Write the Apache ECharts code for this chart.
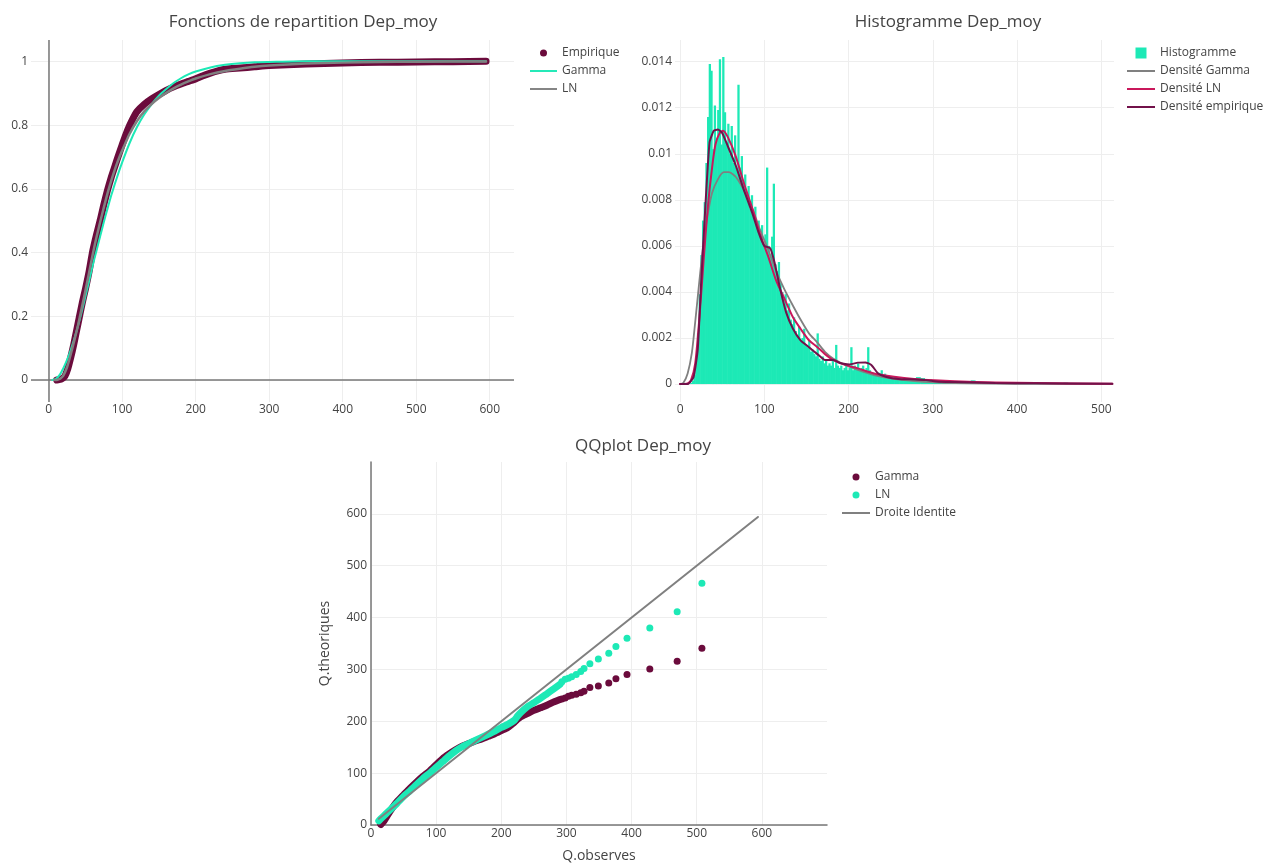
<!DOCTYPE html>
<html>
<head>
<meta charset="utf-8">
<title>Dep_moy</title>
<script src="https://cdn.jsdelivr.net/npm/echarts@6/dist/echarts.min.js"></script>
<style>
  html, body { margin: 0; padding: 0; background: #fff; }
  #chart { width: 1263px; height: 864px; }
</style>
</head>
<body>
<div id="chart"></div>
<script>
// ---------- data ----------
var ecdfXTicks = [0, 100, 200, 300, 400, 500, 600];
var ecdfYTicks = [0, 0.2, 0.4, 0.6, 0.8, 1];
var histXTicks = [0, 100, 200, 300, 400, 500];
var histYTicks = [0, 0.002, 0.004, 0.006, 0.008, 0.01, 0.012, 0.014];
var qqTicks = [0, 100, 200, 300, 400, 500, 600];

// fonctions de repartition
var ecdfEmpirique = [[11,0],[14,0.001],[18,0.004],[22,0.012],[26,0.035],[30,0.07],[34,0.11],[38,0.155],
  [42,0.2],[46,0.245],[50,0.285],[55,0.34],[60,0.405],[65,0.455],[70,0.5],[75,0.55],[80,0.595],[85,0.635],
  [90,0.67],[95,0.705],[100,0.738],[105,0.77],[110,0.798],[115,0.822],[120,0.842],[130,0.865],[140,0.882],
  [150,0.896],[160,0.909],[170,0.92],[180,0.929],[190,0.937],[200,0.945],[210,0.955],[220,0.963],[230,0.97],
  [240,0.975],[260,0.979],[280,0.983],[300,0.987],[350,0.992],[400,0.995],[450,0.997],[500,0.998],[550,0.999],[595,1]];
var ecdfGamma = [[5,0],[10,0.004],[15,0.016],[20,0.037],[25,0.063],[30,0.094],[35,0.13],[40,0.17],[45,0.215],
  [50,0.262],[55,0.31],[60,0.36],[65,0.405],[70,0.45],[75,0.495],[80,0.537],[85,0.578],[90,0.615],[95,0.65],
  [100,0.683],[110,0.743],[120,0.793],[130,0.833],[140,0.865],[150,0.892],[160,0.913],[170,0.932],[180,0.947],
  [190,0.959],[200,0.968],[220,0.981],[240,0.989],[260,0.994],[280,0.997],[300,0.998],[350,1],[595,1]];
var ecdfLN = [[8,0],[12,0.001],[16,0.005],[20,0.014],[25,0.04],[30,0.08],[35,0.125],[40,0.172],[45,0.226],
  [50,0.28],[55,0.337],[60,0.395],[65,0.447],[70,0.495],[75,0.541],[80,0.585],[85,0.624],[90,0.66],[95,0.692],
  [100,0.72],[110,0.772],[120,0.812],[130,0.843],[140,0.866],[150,0.885],[160,0.901],[170,0.915],[180,0.927],
  [190,0.937],[200,0.946],[220,0.96],[240,0.97],[260,0.977],[280,0.983],[300,0.987],[350,0.993],[400,0.996],
  [450,0.998],[500,0.999],[595,0.9995]];

// histogramme : bins of 2 from 12, then bins of 5 from 260
var histFineStart = 12, histFineWidth = 2;
var histFine = [0.00005,0.00015,0.0004,0.0011,0.0022,0.0039,0.0056,0.0071,0.0079,0.0096,
  0.0116,0.0139,0.0136,0.0102,0.0121,0.0106,0.0119,0.0141,0.0104,0.0142,
  0.0118,0.0105,0.0113,0.0100,0.0112,0.0096,0.0108,0.0093,0.0130,0.0094,
  0.0099,0.0088,0.0091,0.0083,0.0086,0.0076,0.0082,0.0073,0.0077,0.0068,
  0.0071,0.0064,0.0069,0.0060,0.0065,0.0094,0.0060,0.0056,0.0064,0.0087,
  0.0052,0.0049,0.0053,0.0044,0.0040,0.0037,0.0039,0.0032,0.0035,0.0028,
  0.0026,0.0029,0.0023,0.0021,0.0025,0.0019,0.0020,0.0024,0.0017,0.0016,
  0.0019,0.0014,0.0015,0.0013,0.0012,0.0022,0.0011,0.0010,0.0012,0.0009,
  0.0010,0.0008,0.0009,0.0008,0.0011,0.0007,0.0017,0.0008,0.0007,0.0008,
  0.0006,0.0007,0.0008,0.0006,0.0007,0.0016,0.0006,0.0008,0.0007,0.0009,
  0.0006,0.0007,0.0008,0.0006,0.0007,0.0016,0.0006,0.0005,0.0005,0.0004,
  0.0004,0.0005,0.00045,0.0006,0.0004,0.00045,0.00035,0.0003,0.00035,0.0003,
  0.00028,0.0003,0.00025,0.00028];
var histTailStart = 260, histTailWidth = 5;
var histTail = [0.00022,0.0002,0.00022,0.00025,0.0003,0.00026,0.0002,0.00017,0.00015,0.00012,
  0.00013,0.0001,0.00012,0.0001,0.00009,0.0001,0.00008,0.00016,0.0001,0.00008,
  0.00007,0.00009,0.00006,0.00007,0.00005,0.00006,0.00005,0.00004,0.00005,0.00006,
  0.00004,0.00003,0.00004,0.00003,0.00005,0.00003,0.00002,0.00003,0.00002,0.00006,
  0.00002,0.00002,0.00001,0.00002,0.00001,0.00001,0.00001,0.00001,0.00001,0.00001];

var densGamma = [[0,0],[4,0.00006],[9,0.00046],[14,0.00135],[18,0.0027],[23,0.0045],[28,0.0062],[33,0.0074],
  [38,0.0083],[45,0.0089],[52,0.0092],[58,0.0092],[66,0.009],[76,0.0084],[86,0.0076],[95,0.0067],[105,0.0058],
  [114,0.0049],[124,0.0041],[134,0.0034],[143,0.0028],[153,0.0022],[163,0.0018],[172,0.0014],[182,0.0011],
  [196,0.00083],[211,0.00061],[230,0.00039],[254,0.00022],[278,0.00013],[302,0.00007],[326,0.00004],
  [374,0.000015],[420,0.000005],[513,0]];
var densLN = [[0,0],[9,0.00003],[13,0.00017],[18,0.0009],[23,0.0029],[28,0.0054],[33,0.0077],[38,0.0094],
  [42,0.0104],[47,0.0109],[51,0.011],[57,0.0107],[66,0.0099],[76,0.0087],[86,0.0076],[95,0.0065],[105,0.0055],
  [114,0.0045],[124,0.0037],[134,0.0029],[143,0.0024],[153,0.0019],[163,0.0016],[172,0.0013],[182,0.00104],
  [196,0.00083],[211,0.00068],[230,0.00046],[254,0.00032],[278,0.00022],[302,0.00016],[326,0.00012],
  [374,0.00007],[422,0.00004],[513,0.000015]];
var densEmpirique = [[0,0],[9,0],[16,0.0003],[21,0.0015],[25,0.0044],[30,0.0077],[35,0.0105],[40,0.011],
  [45,0.01105],[50,0.0109],[57,0.0103],[66,0.0095],[76,0.0084],[86,0.0074],[93,0.0066],[100,0.006],
  [107,0.0059],[112,0.0053],[119,0.0041],[126,0.0031],[134,0.0024],[143,0.0019],[153,0.0016],[163,0.0013],
  [172,0.00104],[182,0.00104],[191,0.0009],[201,0.00085],[211,0.00093],[220,0.00094],[227,0.00083],
  [235,0.00046],[244,0.00032],[259,0.00022],[278,0.0002],[292,0.00017],[307,0.0001],[326,0.00009],
  [350,0.00007],[374,0.00004],[422,0.00003],[513,0.00001]];

// qqplot : dense part (overlapping dots) and the isolated upper quantiles
var qqGammaDense = [[15,1],[20,8],[25,18],[30,28],[35,37],[40,45],[50,58],[60,71],[70,83],[80,94],[90,104],
  [100,116],[110,128],[120,137],[130,145],[140,152],[150,157],[160,162],[170,166],[180,171],[190,176],
  [200,182],[210,188],[215,193],[220,198],[225,204],[230,209],[240,215],[250,221],[260,226],[270,231],
  [280,237],[290,242]];
var qqGammaTail = [[293,243],[298,245],[303,248.5],[308,250],[315,252],[322,255],[327,258],[336,265],
  [349,268],[365,274],[376,282],[393,290],[428,300.6],[470,316],[508,341]];
var qqLNDense = [[12,8],[15,12],[20,18],[25,24],[30,30],[40,42],[50,55],[60,66],[70,78],[80,90],[90,100],
  [100,111],[110,122],[120,133],[130,143],[140,151],[150,157],[160,163],[170,169],[180,175],[190,181],
  [200,188],[210,194],[220,202],[225,210],[230,217],[240,228],[250,236],[260,244],[270,253],[280,262],
  [290,271]];
var qqLNTail = [[293,276],[298,281],[303,283],[308,286],[315,290],[322,296],[327,302],[336,311],
  [349,320],[365,331],[376,344],[393,360],[428,380],[470,411],[508,466]];
var qqIdentite = [[12,12],[594,594]];

// ---------- chart ----------
var FONT = '"Open Sans", Verdana, Arial, sans-serif';
var MAROON = '#6B0B3C', TEAL = '#1DE9B6', GRAY = '#808080', PINK = '#C9185B', PLUM = '#72114A';
var LINE_ICON = 'path://M0,0h28v2h-28z';
var SQUARE_ICON = 'path://M0,0h10v10h-10z';

var histData = [];
histFine.forEach(function (h, i) {
  var x0 = histFineStart + i * histFineWidth;
  histData.push([x0, x0 + histFineWidth, h]);
});
histTail.forEach(function (h, i) {
  var x0 = histTailStart + i * histTailWidth;
  histData.push([x0, x0 + histTailWidth, h]);
});

function fmt(v) { return String(parseFloat(Number(v).toPrecision(6))); }

function valueAxis(idx, min, max, ticks, margin) {
  return {
    type: 'value', gridIndex: idx, min: min, max: max,
    axisLine: { show: false },
    axisTick: { show: false, customValues: ticks },
    axisLabel: { customValues: ticks, color: '#444', fontSize: 12, fontFamily: FONT, margin: margin, formatter: fmt },
    splitLine: { show: true, lineStyle: { color: '#eeeeee', width: 1 } }
  };
}

var chart = echarts.init(document.getElementById('chart'));

var xA = [
  valueAxis(0, -24, 633, ecdfXTicks, 2),
  valueAxis(1, -6, 515, histXTicks, 2),
  valueAxis(2, 0, 700, qqTicks, 3)
];
var yA = [
  valueAxis(0, -0.069, 1.067, ecdfYTicks, 3),
  valueAxis(1, -0.00078, 0.01494, histYTicks, 3),
  valueAxis(2, 0, 700, qqTicks, 4)
];
// qqplot axes sit on zero, with titles
xA[2].axisLine = { show: true, onZero: false, lineStyle: { color: '#777', width: 1.5 } };
yA[2].axisLine = { show: true, onZero: false, lineStyle: { color: '#777', width: 1.5 } };
xA[2].name = 'Q.observes';
xA[2].nameLocation = 'middle';
xA[2].nameGap = 24;
xA[2].nameTextStyle = { color: '#444', fontSize: 14, fontFamily: FONT };
yA[2].name = 'Q.theoriques';
yA[2].nameLocation = 'middle';
yA[2].nameGap = 39;
yA[2].nameTextStyle = { color: '#444', fontSize: 14, fontFamily: FONT };

function lineSeries(name, idx, data, color, width, z, smooth) {
  return {
    name: name, type: 'line', xAxisIndex: idx, yAxisIndex: idx, data: data,
    symbol: 'none', showSymbol: false, smooth: smooth, z: z,
    lineStyle: { color: color, width: width, cap: 'round', join: 'round' },
    itemStyle: { color: color }, silent: true
  };
}

function legendText() { return { color: '#444', fontSize: 12, fontFamily: FONT }; }

chart.setOption({
  animation: false,
  backgroundColor: '#ffffff',
  title: [
    { text: 'Fonctions de repartition Dep_moy', left: 303, top: 14, textAlign: 'center', padding: 0,
      textStyle: { color: '#444', fontSize: 17, fontWeight: 'normal', fontFamily: FONT } },
    { text: 'Histogramme Dep_moy', left: 948, top: 14, textAlign: 'center', padding: 0,
      textStyle: { color: '#444', fontSize: 17, fontWeight: 'normal', fontFamily: FONT } },
    { text: 'QQplot Dep_moy', left: 643, top: 438, textAlign: 'center', padding: 0,
      textStyle: { color: '#444', fontSize: 17, fontWeight: 'normal', fontFamily: FONT } }
  ],
  legend: [
    { orient: 'vertical', left: 530, top: 47, padding: 0, itemWidth: 27, itemHeight: 7, itemGap: 6,
      symbolKeepAspect: true, selectedMode: false, textStyle: legendText(),
      data: [
        { name: 'Empirique', icon: 'circle', itemStyle: { color: MAROON } },
        { name: 'Gamma', icon: LINE_ICON, itemStyle: { color: TEAL } },
        { name: 'LN', icon: LINE_ICON, itemStyle: { color: GRAY } }
      ] },
    { orient: 'vertical', left: 1127, top: 47, padding: 0, itemWidth: 28, itemHeight: 11, itemGap: 6,
      symbolKeepAspect: true, selectedMode: false, textStyle: legendText(),
      data: [
        { name: 'Histogramme', icon: SQUARE_ICON, itemStyle: { color: TEAL } },
        { name: 'Densité Gamma', icon: LINE_ICON, itemStyle: { color: GRAY } },
        { name: 'Densité LN', icon: LINE_ICON, itemStyle: { color: PINK } },
        { name: 'Densité empirique', icon: LINE_ICON, itemStyle: { color: PLUM } }
      ] },
    { orient: 'vertical', left: 842, top: 471, padding: 0, itemWidth: 28, itemHeight: 7, itemGap: 6,
      symbolKeepAspect: true, selectedMode: false, textStyle: legendText(),
      data: [
        { name: 'Gamma', icon: 'circle', itemStyle: { color: MAROON } },
        { name: 'LN', icon: 'circle', itemStyle: { color: TEAL } },
        { name: 'Droite Identite', icon: LINE_ICON, itemStyle: { color: GRAY } }
      ] }
  ],
  grid: [
    { left: 31, top: 40, width: 483, height: 362 },
    { left: 675, top: 40, width: 439, height: 362 },
    { left: 371, top: 462, width: 456, height: 363 }
  ],
  xAxis: xA,
  yAxis: yA,
  series: [
    // --- fonctions de repartition ---
    (function () {
      var s = lineSeries('Empirique', 0, ecdfEmpirique, MAROON, 7, 2, 0.2);
      s.markLine = {
        silent: true, symbol: 'none', z: 1, label: { show: false },
        lineStyle: { color: '#777', width: 1.5, type: 'solid' },
        data: [{ xAxis: 0 }, { yAxis: 0 }]
      };
      return s;
    })(),
    lineSeries('Gamma', 0, ecdfGamma, TEAL, 2, 3, 0.2),
    lineSeries('LN', 0, ecdfLN, GRAY, 2.5, 4, 0.2),

    // --- histogramme ---
    {
      name: 'Histogramme', type: 'custom', xAxisIndex: 1, yAxisIndex: 1, data: histData,
      encode: { x: [0, 1], y: 2 }, clip: true, z: 2, silent: true,
      itemStyle: { color: TEAL },
      renderItem: function (params, api) {
        var p0 = api.coord([api.value(0), api.value(2)]);
        var p1 = api.coord([api.value(1), 0]);
        return {
          type: 'rect',
          shape: { x: p0[0], y: p0[1], width: Math.max(p1[0] - p0[0] + 0.6, 0.5), height: p1[1] - p0[1] },
          style: { fill: TEAL }
        };
      }
    },
    lineSeries('Densité Gamma', 1, densGamma, GRAY, 1.8, 3, 0.25),
    lineSeries('Densité LN', 1, densLN, PINK, 2, 4, 0.25),
    lineSeries('Densité empirique', 1, densEmpirique, PLUM, 2, 5, 0.15),

    // --- qqplot ---
    {
      name: 'Gamma', type: 'scatter', xAxisIndex: 2, yAxisIndex: 2, data: qqGammaTail,
      symbol: 'circle', symbolSize: 7, z: 3, silent: true, itemStyle: { color: MAROON, opacity: 1 }
    },
    lineSeries('Gamma', 2, qqGammaDense, MAROON, 7, 3, 0.2),
    {
      name: 'LN', type: 'scatter', xAxisIndex: 2, yAxisIndex: 2, data: qqLNTail,
      symbol: 'circle', symbolSize: 7, z: 4, silent: true, itemStyle: { color: TEAL, opacity: 1 }
    },
    lineSeries('LN', 2, qqLNDense, TEAL, 7, 4, 0.2),
    lineSeries('Droite Identite', 2, qqIdentite, GRAY, 2, 5, false)
  ]
});
</script>
</body>
</html>
